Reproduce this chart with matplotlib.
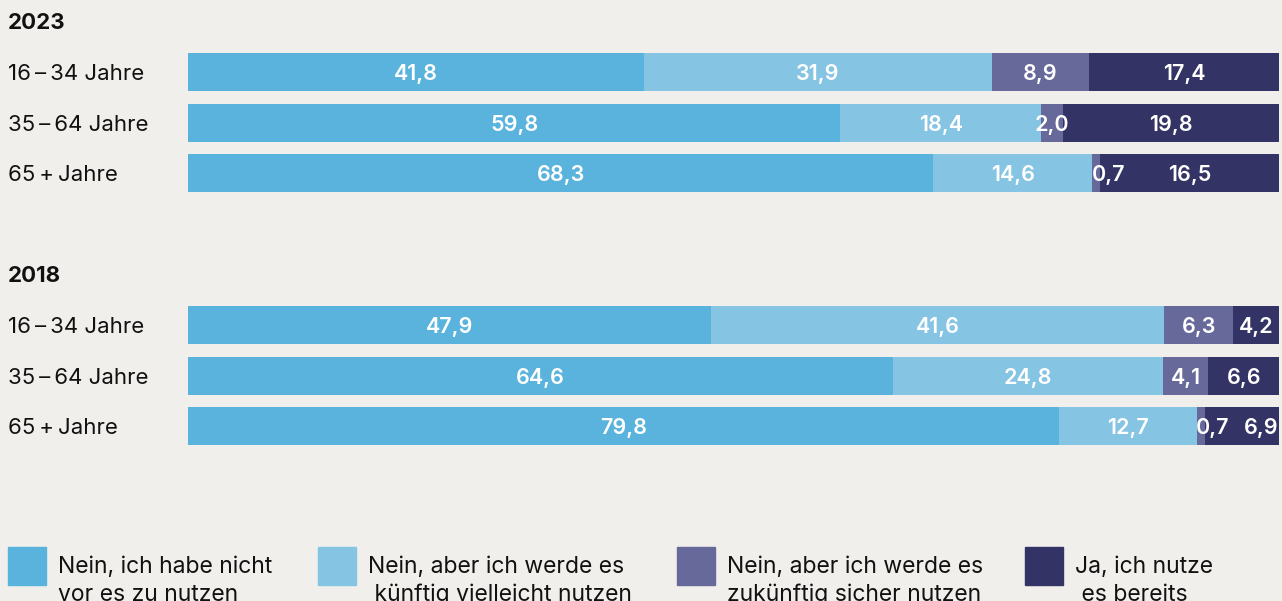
import matplotlib
matplotlib.use("Agg")
import matplotlib.pyplot as plt
from matplotlib.patches import Rectangle

plt.rcParams['font.family'] = ['Inter', 'DejaVu Sans']

# survey shares in percent, one list per answer, rows top to bottom
years = ["2023", "2018"]
age_groups = ["16\u2009\u2013\u200934 Jahre", "35\u2009\u2013\u200964 Jahre", "65\u2009+\u2009Jahre"]
no_plan = [41.8, 59.8, 68.3, 47.9, 64.6, 79.8]
maybe_later = [31.9, 18.4, 14.6, 41.6, 24.8, 12.7]
surely_later = [8.9, 2.0, 0.7, 6.3, 4.1, 0.7]
already_use = [17.4, 19.8, 16.5, 4.2, 6.6, 6.9]

answers = [
    "Nein, ich habe nicht\nvor es zu nutzen",
    "Nein, aber ich werde es\n künftig vielleicht nutzen",
    "Nein, aber ich werde es\nzukünftig sicher nutzen",
    "Ja, ich nutze\n es bereits",
]
colors = ["#5ab3dc", "#86c4e3", "#68699b", "#333366"]
bg = "#f0efeb"

W, H = 1282, 601
fig = plt.figure(figsize=(W / 100, H / 100), dpi=100, facecolor=bg)

# axes covers the bar area; rows are spaced in units of one bar slot
row_px = 50.6
top_px = 72
ax = fig.add_axes([188 / W, 0, 1091 / W, 1])
ax.set_facecolor(bg)
ax.set_xlim(0, 100)
ax.set_ylim((H - top_px) / row_px, -top_px / row_px)
ax.axis("off")

ypos = [0, 1, 2, 5, 6, 7]
series = [no_plan, maybe_later, surely_later, already_use]

# nudges (in percent units) for labels crowded by tiny segments
nudge = {(2, 2): 1.1, (5, 2): 1.1, (5, 3): 1.7}
dy = 0.04

left = [0.0] * len(ypos)
for k, vals in enumerate(series):
    ax.barh(ypos, vals, left=left, height=0.75, color=colors[k], linewidth=0)
    for i, v in enumerate(vals):
        x = left[i] + v / 2 + nudge.get((i, k), 0)
        ax.text(x, ypos[i] + dy, f"{v:.1f}".replace(".", ","), ha="center", va="center",
                color="white", fontsize=15.5, fontweight="semibold")
    left = [a + b for a, b in zip(left, vals)]

# year headings and row labels to the left of the bars
lx = (8 - 188) / 1091
for g, year in enumerate(years):
    ax.text(lx, ypos[g * 3] - 1 + dy, year, transform=ax.get_yaxis_transform(),
            ha="left", va="center", fontsize=16, fontweight="bold", color="#111111")
    for j, name in enumerate(age_groups):
        ax.text(lx, ypos[g * 3 + j] + dy, name, transform=ax.get_yaxis_transform(),
                ha="left", va="center", fontsize=16, color="#111111")

# legend along the bottom edge
leg_x = [8, 318, 677, 1025]
for k, label in enumerate(answers):
    fig.patches.append(Rectangle((leg_x[k] / W, 1 - 585 / H), 38 / W, 38 / H,
                                 transform=fig.transFigure, color=colors[k]))
    fig.text((leg_x[k] + 50) / W, 1 - 556 / H, label, ha="left", va="top",
             fontsize=16.5, color="#111111", linespacing=1.33)

fig.savefig("out.png", dpi=100, facecolor=bg)
